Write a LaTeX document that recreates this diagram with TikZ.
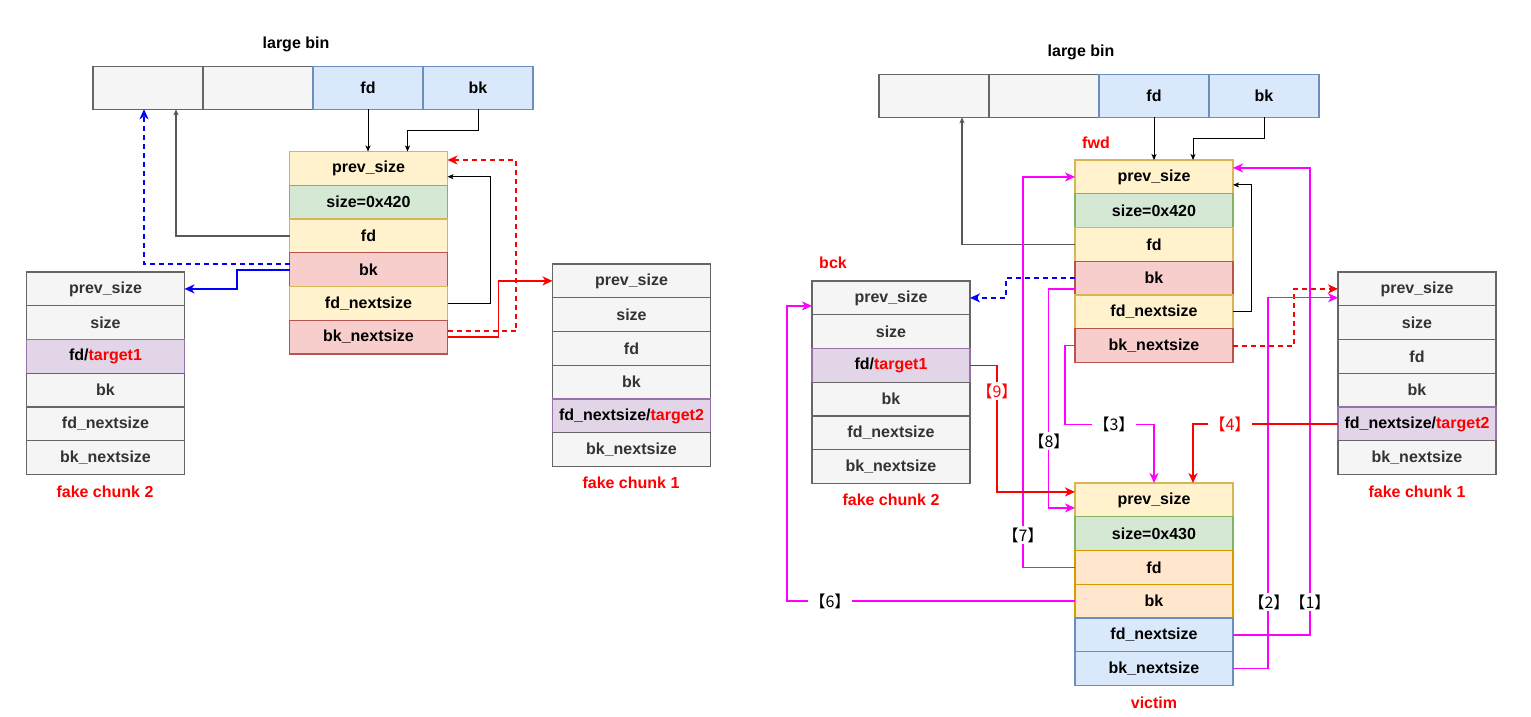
\documentclass[tikz,border=0pt]{standalone}
\usepackage{fontspec}
\setmainfont{Liberation Sans}
\newfontfamily\cjk{Noto Sans CJK SC}
\usetikzlibrary{positioning,arrows.meta}
\definecolor{greyfill}{HTML}{F5F5F5}
\definecolor{greydraw}{HTML}{666666}
\definecolor{greytext}{HTML}{333333}
\definecolor{bluefill}{HTML}{DAE8FC}
\definecolor{bluedraw}{HTML}{6C8EBF}
\definecolor{yelfill}{HTML}{FFF2CC}
\definecolor{yeldraw}{HTML}{D6B656}
\definecolor{grnfill}{HTML}{D5E8D4}
\definecolor{grndraw}{HTML}{82B366}
\definecolor{redfill}{HTML}{F8CECC}
\definecolor{reddraw}{HTML}{B85450}
\definecolor{purfill}{HTML}{E1D5E7}
\definecolor{purdraw}{HTML}{9673A6}
\definecolor{orafill}{HTML}{FFE6CC}
\definecolor{oradraw}{HTML}{D79B00}
\definecolor{pink}{HTML}{FF00FF}

\begin{document}
\begin{tikzpicture}[x=1pt,y=-1pt,
  cell/.style={draw, line width=1.1pt, minimum width=158pt, minimum height=33.75pt,
    inner sep=0pt, outer sep=0pt, font=\bfseries\fontsize{16}{19}\selectfont},
  bincell/.style={cell, minimum width=110pt, minimum height=42.5pt},
  grey/.style={fill=greyfill, draw=greydraw, text=greytext},
  blu/.style={fill=bluefill, draw=bluedraw},
  yel/.style={fill=yelfill, draw=yeldraw},
  grn/.style={fill=grnfill, draw=grndraw},
  rd/.style={fill=redfill, draw=reddraw},
  pur/.style={fill=purfill, draw=purdraw},
  ora/.style={fill=orafill, draw=oradraw},
  title/.style={font=\bfseries\fontsize{16}{19}\selectfont},
  redtitle/.style={title, text=red},
  tag/.style={font=\cjk\fontsize{16}{19}\selectfont, fill=white, inner sep=2pt},
  thinarrow/.style={line width=1pt, -{Stealth[length=6pt,width=5pt,inset=1.5pt]}},
  greyarrow/.style={thinarrow, draw=black!65, line width=1.4pt},
  bigarrow/.style={line width=1.8pt, -{Stealth[length=10pt,width=9pt,inset=3pt]}},
  pinkarrow/.style={draw=pink, line width=1.5pt, -{Stealth[length=10pt,width=9pt,inset=3pt]}},
  dashline/.style={dash pattern=on 5pt off 4pt}
]
\useasboundingbox (0,0) rectangle (1531,716);

% left: large bin before
\node[title] (lbin) at (296,44) {large bin};
\node[bincell,grey] (lb1) at (148,88) {};
\node[bincell,grey,right=0pt of lb1] (lb2) {};
\node[bincell,blu,right=0pt of lb2] (lb3) {fd};
\node[bincell,blu,right=0pt of lb3] (lb4) {bk};

\node[cell,yel] (lps) at (368.5,168.4) {prev\_size};
\node[cell,grn,below=0pt of lps] (lsz) {size=0x420};
\node[cell,yel,below=0pt of lsz] (lfd) {fd};
\node[cell,rd,below=0pt of lfd] (lbk) {bk};
\node[cell,yel,below=0pt of lbk] (lfn) {fd\_nextsize};
\node[cell,rd,below=0pt of lfn] (lbn) {bk\_nextsize};

% left fake chunk 2
\node[cell,grey] (l2ps) at (105.5,288.9) {prev\_size};
\node[cell,grey,below=0pt of l2ps] (l2sz) {size};
\node[cell,pur,below=0pt of l2sz] (l2fd) {fd/\textcolor{red}{target1}};
\node[cell,grey,below=0pt of l2fd] (l2bk) {bk};
\node[cell,grey,below=0pt of l2bk] (l2fn) {fd\_nextsize};
\node[cell,grey,below=0pt of l2fn] (l2bn) {bk\_nextsize};
\node[redtitle] (l2name) at (105,492) {fake chunk 2};

% left fake chunk 1
\node[cell,grey] (l1ps) at (631.5,280.9) {prev\_size};
\node[cell,grey,below=0pt of l1ps] (l1sz) {size};
\node[cell,grey,below=0pt of l1sz] (l1fd) {fd};
\node[cell,grey,below=0pt of l1fd] (l1bk) {bk};
\node[cell,pur,below=0pt of l1bk] (l1fn) {fd\_nextsize/\textcolor{red}{target2}};
\node[cell,grey,below=0pt of l1fn] (l1bn) {bk\_nextsize};
\node[redtitle] (l1name) at (631,483) {fake chunk 1};

\draw[thinarrow] (lb3.south) -- (lb3.south |- lps.north);
\draw[thinarrow] (lb4.south) -- ++(0,21) -| ([xshift=39pt]lps.north);
\draw[greyarrow] (lfd.west) -| ([xshift=28pt]lb1.south);
\draw[bigarrow, draw=blue, dashline] ([yshift=5.5pt]lbk.west) -| ([xshift=-4pt]lb1.south);
\draw[bigarrow, draw=blue] (lbk.west) -- ++(-52.6,0) |- (l2ps.east);
\draw[thinarrow] (lfn.east) -- ++(43,0) |- ([yshift=-8.3pt]lps.east);
\draw[bigarrow, draw=red, dashline] ([yshift=6pt]lbn.east) -- ++(68.5,0) |- ([yshift=8.4pt]lps.east);
\draw[bigarrow, draw=red] (lbn.east) -- ++(51,0) |- (l1ps.west);

% right: large bin after
\node[title] (rbin) at (1081,52) {large bin};
\node[bincell,grey] (rb1) at (934,96) {};
\node[bincell,grey,right=0pt of rb1] (rb2) {};
\node[bincell,blu,right=0pt of rb2] (rb3) {fd};
\node[bincell,blu,right=0pt of rb3] (rb4) {bk};

% fwd
\node[redtitle] (fname) at (1096,143) {fwd};
\node[cell,yel] (fps) at (1154,176.9) {prev\_size};
\node[cell,grn,below=0pt of fps] (fsz) {size=0x420};
\node[cell,yel,below=0pt of fsz] (ffd) {fd};
\node[cell,rd,below=0pt of ffd] (fbk) {bk};
\node[cell,yel,below=0pt of fbk] (ffn) {fd\_nextsize};
\node[cell,rd,below=0pt of ffn] (fbn) {bk\_nextsize};

% bck = fake chunk 2
\node[redtitle] (bname) at (833,263) {bck};
\node[cell,grey] (bps) at (891,297.9) {prev\_size};
\node[cell,grey,below=0pt of bps] (bsz) {size};
\node[cell,pur,below=0pt of bsz] (bfd) {fd/\textcolor{red}{target1}};
\node[cell,grey,below=0pt of bfd] (bbk) {bk};
\node[cell,grey,below=0pt of bbk] (bfn) {fd\_nextsize};
\node[cell,grey,below=0pt of bfn] (bbn) {bk\_nextsize};
\node[redtitle] (b2name) at (891,500) {fake chunk 2};

% fake chunk 1
\node[cell,grey] (r1ps) at (1417,288.9) {prev\_size};
\node[cell,grey,below=0pt of r1ps] (r1sz) {size};
\node[cell,grey,below=0pt of r1sz] (r1fd) {fd};
\node[cell,grey,below=0pt of r1fd] (r1bk) {bk};
\node[cell,pur,below=0pt of r1bk] (r1fn) {fd\_nextsize/\textcolor{red}{target2}};
\node[cell,grey,below=0pt of r1fn] (r1bn) {bk\_nextsize};
\node[redtitle] (r1name) at (1417,492) {fake chunk 1};

% victim
\node[cell,yel] (vps) at (1154,499.9) {prev\_size};
\node[cell,grn,below=0pt of vps] (vsz) {size=0x430};
\node[cell,ora,below=0pt of vsz] (vfd) {fd};
\node[cell,ora,below=0pt of vfd] (vbk) {bk};
\node[cell,blu,below=0pt of vbk] (vfn) {fd\_nextsize};
\node[cell,blu,below=0pt of vfn] (vbn) {bk\_nextsize};
\node[redtitle] (vname) at (1154,703) {victim};

\draw[thinarrow] (rb3.south) -- (rb3.south |- fps.north);
\draw[thinarrow] (rb4.south) -- ++(0,21) -| ([xshift=39pt]fps.north);
\draw[greyarrow] (ffd.west) -| ([xshift=28pt]rb1.south);
\draw[thinarrow] (ffn.east) -- ++(18,0) |- ([yshift=-8pt]fps.east);
\draw[bigarrow, draw=blue, dashline] (fbk.west) -- ++(-69,0) |- (bps.east);
\draw[bigarrow, draw=red, dashline] (fbn.east) -- ++(61,0) |- (r1ps.west);

% numbered steps
\draw[pinkarrow] (vfn.east) -- ++(77,0) |- ([yshift=9pt]fps.east);
\draw[pinkarrow] (vbn.east) -- ++(35,0) |- ([yshift=-8.8pt]r1ps.west);
\draw[pinkarrow] (fbn.west) -- ++(-10,0) -- ++(0,79) -| (vps.north);
\draw[bigarrow, draw=red] (r1fn.west) -| ([xshift=39pt]vps.north);
\draw[pinkarrow] (vbk.west) -- ++(-288,0) |- ([yshift=-8pt]bps.west);
\draw[pinkarrow] (vfd.west) -- ++(-52,0) |- (fps.west);
\draw[pinkarrow] ([yshift=-11pt]fbk.west) -- ++(-26.5,0) |- ([yshift=-8pt]vps.west);
\draw[bigarrow, draw=red] (bfd.east) -- ++(27,0) |- ([yshift=8pt]vps.west);

\node[tag] (s1) at (1310,602) {【1】};
\node[tag] (s2) at (1269,602) {【2】};
\node[tag] (s3) at (1114,424) {【3】};
\node[tag, text=red] (s4) at (1230,424) {【4】};
\node[tag] (s6) at (830,601) {【6】};
\node[tag] (s7) at (1023,535) {【7】};
\node[tag] (s8) at (1049,441) {【8】};
\node[tag, text=red] (s9) at (997,391) {【9】};
\end{tikzpicture}
\end{document}
